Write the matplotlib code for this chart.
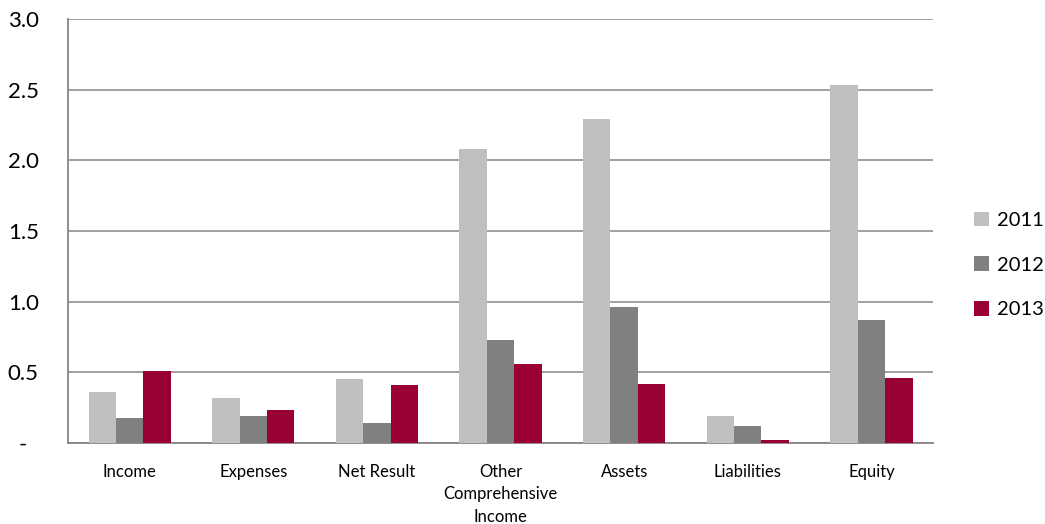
import numpy as np
import matplotlib.pyplot as plt

plt.rcParams['font.family'] = ['Lato', 'DejaVu Sans']

categories = ['Income', 'Expenses', 'Net Result', 'Other\nComprehensive\nIncome',
              'Assets', 'Liabilities', 'Equity']
years = ['2011', '2012', '2013']
values_2011 = [0.36, 0.32, 0.45, 2.08, 2.29, 0.19, 2.53]
values_2012 = [0.18, 0.19, 0.14, 0.73, 0.96, 0.12, 0.87]
values_2013 = [0.51, 0.23, 0.41, 0.56, 0.42, 0.02, 0.46]
yticks = [0, 0.5, 1.0, 1.5, 2.0, 2.5, 3.0]
ytick_labels = ['-  ', '0.5', '1.0', '1.5', '2.0', '2.5', '3.0']

colors = ['#BFBFBF', '#808080', '#990033']
series = [values_2011, values_2012, values_2013]

fig = plt.figure(figsize=(10.45, 5.24), dpi=100)
ax = fig.add_axes([0.065, 0.1546, 0.828, 0.8091])

x = np.arange(len(categories))
w = 0.222
for i, (vals, col, yr) in enumerate(zip(series, colors, years)):
    ax.bar(x + (i - 1) * w, vals, width=w, color=col, label=yr, zorder=3)

ax.set_xlim(-0.5, len(categories) - 0.5)
ax.set_ylim(0, 3.0)
ax.set_yticks(yticks)
ax.set_yticklabels(ytick_labels, fontsize=16)
ax.set_xticks(x)
ax.set_xticklabels(categories, fontsize=12, linespacing=1.5)
ax.tick_params(axis='both', length=0)
ax.tick_params(axis='y', pad=21)
ax.tick_params(axis='x', pad=15)

ax.grid(axis='y', color='#868686', linewidth=1.1, zorder=0)
for s in ['top', 'right']:
    ax.spines[s].set_visible(False)
for s in ['left', 'bottom']:
    ax.spines[s].set_color('#868686')
    ax.spines[s].set_linewidth(1.3)

ax.legend(loc='center left', bbox_to_anchor=(1.026, 0.42), frameon=False,
          fontsize=14.5, handlelength=0.75, handleheight=0.75,
          handletextpad=0.4, labelspacing=1.35)

fig.savefig('out.png', dpi=100)
